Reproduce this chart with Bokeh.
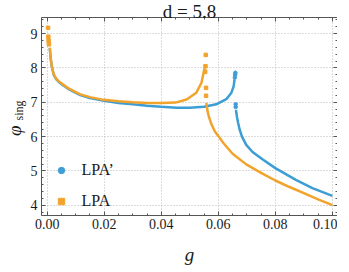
from bokeh.plotting import figure
from bokeh.models import (Legend, LegendItem, LinearAxis, SingleIntervalTicker,
                          NumeralTickFormatter, Range1d, CustomLabelingPolicy)
from bokeh.embed import file_html
from bokeh.resources import INLINE

# ---------------- data ----------------
title_text = "d = 5.8"
x_label = "g"
y_label_main = "φ"
y_label_sub = "sing"
series_names = ["LPA’", "LPA"]

# LPA' (blue)
lpap_upper_g = [0.0009, 0.0012, 0.0016, 0.0023, 0.0032, 0.0045, 0.0058, 0.008, 0.0116, 0.015,
                0.02, 0.025, 0.03, 0.035, 0.04, 0.0454, 0.05, 0.055, 0.0593, 0.0628,
                0.0646, 0.0654, 0.0657]
lpap_upper_v = [8.58, 8.29, 8.04, 7.80, 7.67, 7.56, 7.48, 7.36, 7.21, 7.12,
                7.04, 6.98, 6.94, 6.90, 6.87, 6.84, 6.84, 6.87, 6.94, 7.09,
                7.28, 7.47, 7.67]
lpap_sparse_g = [0.0658, 0.0659, 0.0660, 0.0661, 0.0661]
lpap_sparse_v = [7.72, 7.80, 7.86, 6.94, 6.86]
lpap_lower_g = [0.0662, 0.0663, 0.0666, 0.0669, 0.0675, 0.0683, 0.0698, 0.072, 0.0756, 0.08,
                0.0872, 0.093, 0.1]
lpap_lower_v = [6.78, 6.70, 6.55, 6.42, 6.20, 6.00, 5.76, 5.55, 5.33, 5.08,
                4.74, 4.50, 4.27]

# LPA (orange)
lpa_upper_g = [0.0009, 0.0012, 0.0016, 0.0023, 0.0032, 0.0045, 0.0058, 0.008, 0.0116, 0.015,
               0.0198, 0.025, 0.03, 0.035, 0.04, 0.045, 0.0489, 0.0523, 0.0541, 0.0552]
lpa_upper_v = [8.59, 8.30, 8.05, 7.81, 7.68, 7.58, 7.50, 7.38, 7.23, 7.15,
               7.07, 7.03, 7.00, 6.98, 6.98, 6.99, 7.08, 7.28, 7.57, 8.00]
lpa_sparse_g = [0.0003, 0.0004, 0.0005, 0.0006, 0.0554, 0.0555, 0.0556, 0.0557, 0.0557]
lpa_sparse_v = [9.17, 8.91, 8.79, 8.69, 7.89, 8.05, 8.38, 7.42, 7.19]
lpa_lower_g = [0.0558, 0.0562, 0.0568, 0.0576, 0.0588, 0.06, 0.0617, 0.065, 0.0698, 0.075,
               0.08, 0.085, 0.09, 0.095, 0.1]
lpa_lower_v = [6.98, 6.75, 6.55, 6.36, 6.15, 6.02, 5.82, 5.50, 5.19, 4.94,
               4.72, 4.53, 4.35, 4.17, 4.00]

x_min, x_max = -0.002, 0.1018
y_min, y_max = 3.70, 9.47
x_tick_step, y_tick_step = 0.02, 1

# ---------------- styling ----------------
BLUE = "#3d9dd5"
ORANGE = "#f2a32c"
FONT = "Liberation Serif"
AXIS_COLOR = "#555555"
TEXT_COLOR = "#1a1a1a"
PAD = "\u2007"  # figure space, used to shift the rotated label parts along the axis

p = figure(frame_width=296, frame_height=198, output_backend="svg", toolbar_location=None,
           x_range=Range1d(x_min, x_max), y_range=Range1d(y_min, y_max),
           min_border_left=0, min_border_top=17, min_border_right=0, min_border_bottom=41,
           background_fill_color="white", border_fill_color="white")
p.outline_line_color = None

p.title.text = title_text
p.title.align = "center"
p.title.text_font = FONT
p.title.text_font_style = "normal"
p.title.text_font_size = "19px"
p.title.text_color = TEXT_COLOR
p.title.standoff = -9

xt = SingleIntervalTicker(interval=x_tick_step, num_minor_ticks=4)
yt = SingleIntervalTicker(interval=y_tick_step, num_minor_ticks=5)

def hide_labels(ax):
    ax.major_label_text_font_size = "0px"
    ax.major_label_standoff = 0
    ax.major_label_policy = CustomLabelingPolicy(
        code="for (const i of indices) { indices.unset(i) }\nreturn indices")

def style_axis(ax, show_labels):
    ax.axis_line_color = AXIS_COLOR
    ax.major_tick_line_color = AXIS_COLOR
    ax.minor_tick_line_color = AXIS_COLOR
    ax.major_tick_in = 4
    ax.major_tick_out = 0
    ax.minor_tick_in = 2
    ax.minor_tick_out = 0
    ax.major_label_text_font = FONT
    ax.major_label_text_color = TEXT_COLOR
    if show_labels:
        ax.major_label_text_font_size = "14px"
    else:
        hide_labels(ax)

xa = p.xaxis[0]
xa.ticker = xt
xa.formatter = NumeralTickFormatter(format="0.00")
style_axis(xa, True)
xa.major_label_standoff = 3
xa.axis_label = x_label
xa.axis_label_text_font = FONT
xa.axis_label_text_font_style = "italic"
xa.axis_label_text_font_size = "19px"
xa.axis_label_text_color = TEXT_COLOR
xa.axis_label_standoff = 12

# main y axis: ticks + subscript part of the label
ya = p.yaxis[0]
ya.ticker = yt
ya.formatter = NumeralTickFormatter(format="0")
style_axis(ya, True)
ya.major_label_standoff = 4
ya.axis_label = PAD * 2 + y_label_sub
ya.axis_label_text_font = FONT
ya.axis_label_text_font_style = "normal"
ya.axis_label_text_font_size = "12px"
ya.axis_label_text_color = TEXT_COLOR
ya.axis_label_standoff = 2

# outer, invisible y axis carrying the main symbol
ya2 = LinearAxis(ticker=yt)
ya2.axis_line_color = None
ya2.major_tick_line_color = None
ya2.minor_tick_line_color = None
ya2.major_tick_in = 0
ya2.major_tick_out = 0
ya2.minor_tick_in = 0
ya2.minor_tick_out = 0
hide_labels(ya2)
ya2.axis_label = y_label_main + PAD * 3
ya2.axis_label_text_font = FONT
ya2.axis_label_text_font_style = "italic"
ya2.axis_label_text_font_size = "19px"
ya2.axis_label_text_color = TEXT_COLOR
ya2.axis_label_standoff = -16
p.add_layout(ya2, "left")

ra = LinearAxis(ticker=yt)
style_axis(ra, False)
p.add_layout(ra, "right")
ta = LinearAxis(ticker=xt)
style_axis(ta, False)
p.add_layout(ta, "above")

for g in (p.xgrid[0], p.ygrid[0]):
    g.grid_line_color = "#b8b8b8"
    g.grid_line_dash = "1 2"
    g.grid_line_width = 1
p.xgrid[0].ticker = xt
p.ygrid[0].ticker = yt

# ---------------- data marks ----------------
p.line(lpap_upper_g, lpap_upper_v, line_color=BLUE, line_width=2.5)
p.line(lpap_lower_g, lpap_lower_v, line_color=BLUE, line_width=2.5)
r_blue = p.scatter(lpap_sparse_g, lpap_sparse_v, marker="circle", size=3.5, color=BLUE)
p.line(lpa_upper_g, lpa_upper_v, line_color=ORANGE, line_width=2.5)
p.line(lpa_lower_g, lpa_lower_v, line_color=ORANGE, line_width=2.5)
r_orange = p.scatter(lpa_sparse_g, lpa_sparse_v, marker="square", size=3.5, color=ORANGE)

legend = Legend(items=[LegendItem(label=series_names[0], renderers=[r_blue]),
                       LegendItem(label=series_names[1], renderers=[r_orange])],
                location=(11.5, 5.5), orientation="vertical",
                glyph_width=16, glyph_height=16, label_height=15, spacing=13,
                label_standoff=13, padding=0, margin=0,
                border_line_alpha=0, background_fill_alpha=0,
                label_text_font=FONT, label_text_font_size="16px", label_text_color=TEXT_COLOR)
p.add_layout(legend, "center")

open("out.html", "w").write(file_html(p, INLINE))
